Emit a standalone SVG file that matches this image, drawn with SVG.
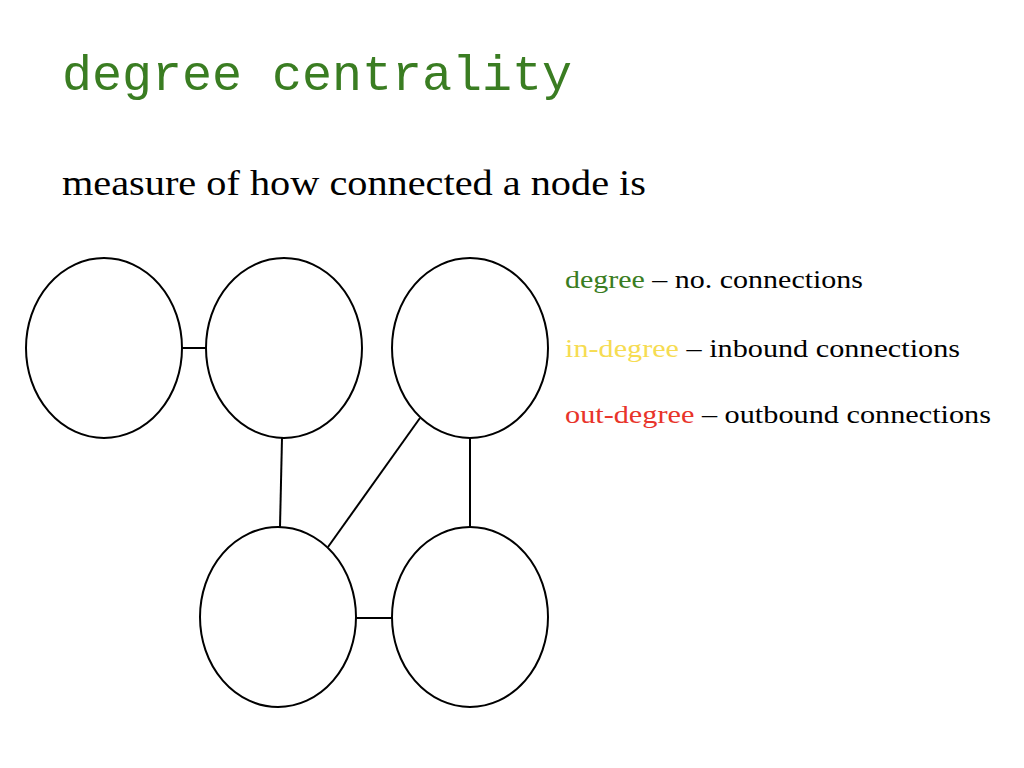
<svg xmlns="http://www.w3.org/2000/svg" width="1024" height="768" viewBox="0 0 1024 768">
<style>
.node{fill:#fff;stroke:#000;stroke-width:2}
.edge{stroke:#000;stroke-width:2;fill:none}
.serif{font-family:"Liberation Serif","Times New Roman",serif;fill:#000}
.leg{font-size:26px}
.green{fill:#3a7d22}
.yellow{fill:#f6dc52}
.red{fill:#e8342a}
</style>
<rect width="1024" height="768" fill="#fff"/>
<text x="62" y="90" font-family="'Liberation Mono','Courier New',monospace" font-size="50" fill="#3a7d22" textLength="510" lengthAdjust="spacingAndGlyphs">degree centrality</text>
<text class="serif" x="62" y="195" font-size="36" textLength="584" lengthAdjust="spacingAndGlyphs">measure of how connected a node is</text>
<text class="serif leg" x="565" y="288" textLength="298" lengthAdjust="spacingAndGlyphs"><tspan class="green">degree</tspan> – no. connections</text>
<text class="serif leg" x="565" y="357" textLength="395" lengthAdjust="spacingAndGlyphs"><tspan class="yellow">in-degree</tspan> – inbound connections</text>
<text class="serif leg" x="565" y="423" textLength="426" lengthAdjust="spacingAndGlyphs"><tspan class="red">out-degree</tspan> – outbound connections</text>
<g id="connectors">
<line class="edge" x1="182" y1="348" x2="206" y2="348"/>
<line class="edge" x1="282" y1="438" x2="280" y2="527"/>
<line class="edge" x1="420" y1="418" x2="328" y2="547"/>
<line class="edge" x1="470" y1="438" x2="470" y2="527"/>
<line class="edge" x1="356" y1="618" x2="392" y2="618"/>
</g>
<g id="nodeA"><ellipse class="node" cx="104" cy="348" rx="78" ry="90"/></g>
<g id="nodeB"><ellipse class="node" cx="284" cy="348" rx="78" ry="90"/></g>
<g id="nodeC"><ellipse class="node" cx="470" cy="348" rx="78" ry="90"/></g>
<g id="nodeD"><ellipse class="node" cx="278" cy="617" rx="78" ry="90"/></g>
<g id="nodeE"><ellipse class="node" cx="470" cy="617" rx="78" ry="90"/></g>
</svg>
